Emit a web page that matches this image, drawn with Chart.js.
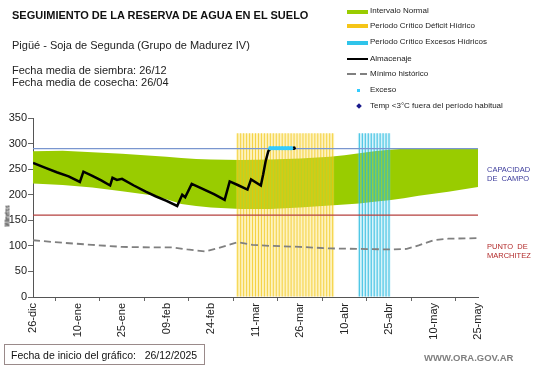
<!DOCTYPE html>
<html lang="es">
<head>
<meta charset="UTF-8">
<title>Seguimiento de la reserva de agua en el suelo</title>
<script src="https://cdn.jsdelivr.net/npm/chart.js"></script>
<style>
  body { margin: 0; background: #fff; font-family: 'Liberation Sans', Arial, sans-serif; color: #111; }
  #wrap { position: relative; width: 541px; height: 368px; overflow: hidden; }
  #chart { position: absolute; left: 0; top: 0; }
  .txt { position: absolute; white-space: nowrap; }
  .title { left: 12px; top: 9px; font-size: 11px; line-height: 13px; font-weight: bold; }
  .sub { left: 12px; font-size: 11px; line-height: 13px; color: #222; }
  .lg { position: absolute; left: 370px; font-size: 8px; line-height: 10px; color: #222; white-space: nowrap; }
  .sw { position: absolute; }
  .side { position: absolute; left: 487px; font-size: 7.5px; line-height: 9px; }
  #startBox { position: absolute; left: 4px; top: 344px; width: 201px; height: 21px; border: 1px solid #9a8a8a;
              font-size: 10.5px; line-height: 21px; box-sizing: border-box; padding-left: 6px; color: #111; }
  #site { left: 424px; top: 352px; font-size: 9.5px; font-weight: bold; color: #7f7f7f; }
  #ylab { left: 7px; top: 216px; font-size: 7px; font-weight: bold; color: #222;
          transform: translate(-50%, -50%) rotate(-90deg) scaleX(0.6); }
</style>
</head>
<body>
<div id="wrap">
  <canvas id="chart" width="541" height="368"></canvas>

  <div class="txt title">SEGUIMIENTO DE LA RESERVA DE AGUA EN EL SUELO</div>
  <div class="txt sub" style="top:39px">Pigüé - Soja de Segunda (Grupo de Madurez IV)</div>
  <div class="txt sub" style="top:64px">Fecha media de siembra: 26/12</div>
  <div class="txt sub" style="top:76px">Fecha media de cosecha: 26/04</div>

  <!-- legend -->
  <div class="sw" style="left:347px;top:10px;width:21px;height:4px;background:#99cc00"></div>
  <div class="lg" style="top:6px">Intervalo Normal</div>
  <div class="sw" style="left:347px;top:24px;width:21px;height:4px;background:#f5c518"></div>
  <div class="lg" style="top:21px">Periodo Crítico Déficit Hídrico</div>
  <div class="sw" style="left:347px;top:41px;width:21px;height:4px;background:#2fc4ea"></div>
  <div class="lg" style="top:37px">Periodo Crítico Excesos Hídricos</div>
  <div class="sw" style="left:347px;top:58px;width:21px;height:2px;background:#000"></div>
  <div class="lg" style="top:54px">Almacenaje</div>
  <div class="sw" style="left:347px;top:73px;width:9px;height:2px;background:#808080"></div>
  <div class="sw" style="left:360px;top:73px;width:7px;height:2px;background:#808080"></div>
  <div class="lg" style="top:69px">Mínimo histórico</div>
  <div class="sw" style="left:357px;top:89px;width:3px;height:3px;background:#33ccff"></div>
  <div class="lg" style="top:85px">Exceso</div>
  <div class="sw" style="left:357px;top:104px;width:4px;height:4px;background:#1a1a8c;transform:rotate(45deg)"></div>
  <div class="lg" style="top:101px">Temp &lt;3°C fuera del período habitual</div>

  <div class="side" style="top:165px;color:#3b3b9b">CAPACIDAD<br>DE&nbsp; CAMPO</div>
  <div class="side" style="top:242px;color:#b22a2a">PUNTO&nbsp; DE<br>MARCHITEZ</div>

  <div class="txt" id="ylab">Milímetros</div>
  <div id="startBox">Fecha de inicio del gráfico:&nbsp;&nbsp; 26/12/2025</div>
  <div class="txt" id="site">WWW.ORA.GOV.AR</div>
</div>

<script>
// x is days since 26-dic
const dateLabels = ['26-dic', '10-ene', '25-ene', '09-feb', '24-feb', '11-mar', '26-mar', '10-abr', '25-abr', '10-may', '25-may'];

const bandDays  = [0, 10, 20, 30, 40, 45, 50, 55, 60, 70, 80, 90, 100, 105, 110, 115, 120, 125, 130, 140, 150];
const bandUpper = [285, 286, 283, 280, 276, 274, 272, 270, 269, 268, 269, 271, 274, 277, 281, 285, 288, 290, 290, 290, 290];
const bandLower = [222, 219, 214, 207, 199, 191, 182, 178, 175, 172, 172, 175, 179, 181, 183, 186, 189, 193, 198, 206, 215];

const minDays = [0, 10, 20, 30, 40, 47, 52, 58, 62, 69, 74, 80, 90, 100, 110, 120, 126, 130, 135, 140, 150];
const minVals = [111, 106, 102, 98, 97, 97, 93, 89, 95, 107, 102, 100, 98, 95, 94, 93, 94, 101, 111, 114, 115];

const storeDays = [0, 4, 8, 12, 15.8, 17, 20, 23, 26, 26.8, 28.3, 30, 34, 38, 41.3, 45, 48.6, 50.3, 51.3, 53.5,
                   57, 61, 64.6, 66.3, 69, 72.3, 73.5, 76.8, 77.6, 78.4, 79.3, 80, 84, 88];
const storeVals = [262, 253, 244, 236, 225, 245, 237, 228, 218, 233, 229, 231, 218, 206, 197, 188, 178, 200, 195, 221,
                   212, 201, 190, 226, 219, 210, 230, 218, 240, 265, 285, 290, 291, 291];

const excesoDays = [80, 81, 82, 83, 84, 85, 86, 87];
const excesoVals = [291, 291, 291, 291, 291, 291, 291, 291];

const deficitDays = [69, 70, 71, 72, 73, 74, 75, 76, 77, 78, 79, 80, 81, 82, 83, 84, 85,
                     86, 87, 88, 89, 90, 91, 92, 93, 94, 95, 96, 97, 98, 99, 100, 101];
const excessDays = [110, 111, 112, 113, 114, 115, 116, 117, 118, 119, 120];

const capacidadCampo = 290;
const puntoMarchitez = 160;
const stripeTop = 320;

const pts = (xs, ys) => xs.map((x, i) => ({ x: x, y: ys[i] }));
const stripes = (xs) => xs.map(x => ({ x: x, y: stripeTop }));

const ctx = document.getElementById('chart');
new Chart(ctx, {
  type: 'line',
  data: {
    datasets: [
      { label: 'Exceso', data: pts(excesoDays, excesoVals), showLine: false,
        pointRadius: 2.2, pointBackgroundColor: '#33ccff', pointBorderWidth: 0, order: 0 },
      { label: 'Almacenaje', data: pts(storeDays, storeVals), borderColor: '#000', borderWidth: 2.5,
        pointRadius: c => c.dataIndex === storeDays.length - 1 ? 1.8 : 0,
        pointBackgroundColor: '#000', pointBorderWidth: 0, order: 1 },
      { label: 'Capacidad de campo', data: pts([0, 150], [capacidadCampo, capacidadCampo]),
        borderColor: '#7a96cf', borderWidth: 1.2, pointRadius: 0, order: 2 },
      { label: 'Punto de marchitez', data: pts([0, 150], [puntoMarchitez, puntoMarchitez]),
        borderColor: '#b5413f', borderWidth: 1.2, pointRadius: 0, order: 2 },
      { label: 'Mínimo histórico', data: pts(minDays, minVals), borderColor: '#808080',
        borderDash: [7, 4], borderWidth: 1.8, pointRadius: 0, order: 3 },
      { type: 'bar', label: 'Periodo Crítico Déficit Hídrico', data: stripes(deficitDays),
        backgroundColor: 'rgba(240,192,0,0.65)', barThickness: 1, inflateAmount: 0, grouped: false, order: 4 },
      { type: 'bar', label: 'Periodo Crítico Excesos Hídricos', data: stripes(excessDays),
        backgroundColor: 'rgba(25,180,220,0.85)', barThickness: 1, inflateAmount: 0, grouped: false, order: 4 },
      // translucent backgrounds of the critical periods, the band shows through them
      { type: 'bar', label: 'deficit fondo', data: stripes(deficitDays),
        backgroundColor: 'rgba(250,222,90,0.4)', barThickness: 3, inflateAmount: 0, grouped: false, order: 5 },
      { type: 'bar', label: 'excesos fondo', data: stripes(excessDays),
        backgroundColor: 'rgba(120,215,240,0.3)', barThickness: 3, inflateAmount: 0, grouped: false, order: 5 },
      { label: 'Intervalo Normal', data: pts(bandDays, bandUpper), fill: '+1',
        backgroundColor: '#99cc00', borderWidth: 0, pointRadius: 0, order: 6 },
      { label: 'Intervalo Normal (inf)', data: pts(bandDays, bandLower), fill: false,
        borderWidth: 0, pointRadius: 0, order: 6 }
    ]
  },
  options: {
    responsive: false,
    animation: false,
    devicePixelRatio: 1,
    layout: { padding: { top: 118, right: 63, left: 0, bottom: 0 } },
    plugins: { legend: { display: false }, tooltip: { enabled: false } },
    scales: {
      x: {
        type: 'linear', min: 0, max: 150, offset: false,
        afterFit: s => { s.height = 71; },
        grid: { drawOnChartArea: false, drawTicks: true, tickLength: 4, color: '#666' },
        border: { display: true, color: '#555' },
        ticks: {
          stepSize: 15, autoSkip: false, maxRotation: 90, minRotation: 90, padding: 2,
          color: '#222', font: { family: "'Liberation Sans', Arial", size: 11 },
          callback: (v, i) => dateLabels[i]
        }
      },
      y: {
        min: 0, max: 350,
        afterFit: s => { s.width = 33; },
        grid: { drawOnChartArea: false, drawTicks: true, tickLength: 5, color: '#666' },
        border: { display: true, color: '#555' },
        ticks: { stepSize: 50, padding: 1, color: '#222', font: { family: "'Liberation Sans', Arial", size: 11 } }
      }
    }
  }
});
</script>
</body>
</html>
